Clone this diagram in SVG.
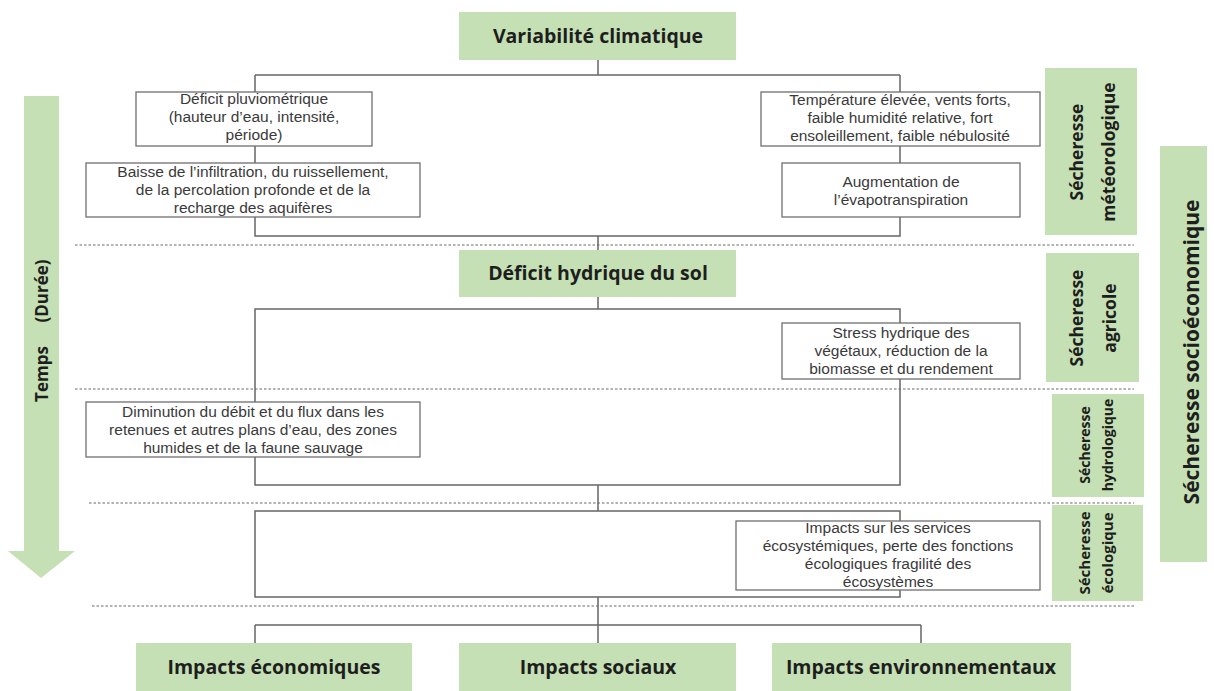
<svg xmlns="http://www.w3.org/2000/svg" width="1214" height="691" viewBox="0 0 1214 691">
<style>
.g{fill:#c5e0b4;stroke:none}
.b{fill:#fff;stroke:#6f6f6f;stroke-width:1.3}
.c{fill:none;stroke:#666;stroke-width:1.5}
.d{fill:none;stroke:#9a9a9a;stroke-width:1.3;stroke-dasharray:2.5 2}
.t{font-family:"Liberation Sans",Arial,sans-serif;font-size:15.5px;fill:#3a3a3a;text-anchor:middle}
.h{font-family:"Open Sans","Liberation Sans",sans-serif;font-size:19.5px;font-weight:bold;fill:#1e1e1e;text-anchor:middle}
.v{font-family:"Open Sans","Liberation Sans",sans-serif;font-size:17.5px;font-weight:bold;fill:#1e1e1e;text-anchor:middle}
</style>
<rect width="1214" height="691" fill="#fff"/>
<g id="dividers">
<line class="d" x1="75" y1="245" x2="1134" y2="245"/>
<line class="d" x1="75" y1="389" x2="1134" y2="389"/>
<line class="d" x1="89" y1="503" x2="1134" y2="503"/>
<line class="d" x1="92" y1="606" x2="1136" y2="606"/>
</g>
<g id="connectors">
<path class="c" d="M598 60V75M255 75H900M255 75V92M900 75V92"/>
<path class="c" d="M255 146V163M900 146V163"/>
<path class="c" d="M255 217V236H900V217M598 236V250"/>
<path class="c" d="M598 297V309M255 309H900V485H255Z"/>
<path class="c" d="M598 485V511M255 511H900V597H255Z"/>
<path class="c" d="M598 597V643M255 625H921M255 625V643M921 625V643"/>
</g>
<g id="time-arrow">
<path class="g" d="M24 96H59V551H75L41 578L8 551H24Z"/>
<text class="v" transform="translate(48,0) rotate(-90)" style="font-size:17px"><tspan x="-374" y="0">Temps</tspan><tspan x="-291" y="0">(Durée)</tspan></text>
</g>
<g id="variabilite">
<rect class="g" x="459" y="12" width="277" height="48"/>
<text class="h" x="598" y="43">Variabilité climatique</text>
</g>
<g id="deficit-pluvio">
<rect class="b" x="136" y="92" width="236" height="54"/>
<text class="t"><tspan x="254" y="104">Déficit pluviométrique</tspan><tspan x="254" y="122">(hauteur d’eau, intensité,</tspan><tspan x="254" y="140">période)</tspan></text>
</g>
<g id="temperature">
<rect class="b" x="761" y="92" width="279" height="54"/>
<text class="t"><tspan x="900" y="105">Température élevée, vents forts,</tspan><tspan x="900" y="123">faible humidité relative, fort</tspan><tspan x="900" y="141">ensoleillement, faible nébulosité</tspan></text>
</g>
<g id="baisse">
<rect class="b" x="86" y="163" width="334" height="54"/>
<text class="t"><tspan x="253" y="177">Baisse de l’infiltration, du ruissellement,</tspan><tspan x="253" y="195">de la percolation profonde et de la</tspan><tspan x="253" y="213">recharge des aquifères</tspan></text>
</g>
<g id="augmentation">
<rect class="b" x="782" y="163" width="238" height="54"/>
<text class="t"><tspan x="901" y="187">Augmentation de</tspan><tspan x="901" y="205">l’évapotranspiration</tspan></text>
</g>
<g id="meteo">
<rect class="g" x="1045" y="68" width="92" height="167"/>
<text class="v" transform="translate(1091,152) rotate(-90)"><tspan x="0" y="-8">Sécheresse</tspan><tspan x="0" y="24">météorologique</tspan></text>
</g>
<g id="socio">
<rect class="g" x="1160" y="146" width="47" height="416"/>
<text class="h" transform="translate(1199,352) rotate(-90)" style="font-size:21px">Sécheresse socioéconomique</text>
</g>
<g id="deficit-hydrique">
<rect class="g" x="459" y="250" width="277" height="47"/>
<text class="h" x="598" y="280">Déficit hydrique du sol</text>
</g>
<g id="agricole">
<rect class="g" x="1046" y="253" width="93" height="129"/>
<text class="v" transform="translate(1091,318) rotate(-90)"><tspan x="0" y="-8">Sécheresse</tspan><tspan x="0" y="25">agricole</tspan></text>
</g>
<g id="stress">
<rect class="b" x="782" y="323" width="238" height="56"/>
<text class="t"><tspan x="901" y="338">Stress hydrique des</tspan><tspan x="901" y="356">végétaux, réduction de la</tspan><tspan x="901" y="374">biomasse et du rendement</tspan></text>
</g>
<g id="diminution">
<rect class="b" x="86" y="402" width="334" height="55"/>
<text class="t"><tspan x="253" y="417">Diminution du débit et du flux dans les</tspan><tspan x="253" y="435">retenues et autres plans d’eau, des zones</tspan><tspan x="253" y="453">humides et de la faune sauvage</tspan></text>
</g>
<g id="hydro">
<rect class="g" x="1052" y="394" width="92" height="103"/>
<text class="v" transform="translate(1098,445) rotate(-90)" style="font-size:14px"><tspan x="0" y="-8">Sécheresse</tspan><tspan x="0" y="15">hydrologique</tspan></text>
</g>
<g id="impacts-services">
<rect class="b" x="736" y="521" width="304" height="69"/>
<text class="t"><tspan x="888" y="533">Impacts sur les services</tspan><tspan x="888" y="551">écosystémiques, perte des fonctions</tspan><tspan x="888" y="569">écologiques fragilité des</tspan><tspan x="888" y="587">écosystèmes</tspan></text>
</g>
<g id="ecologique">
<rect class="g" x="1052" y="505" width="91" height="96"/>
<text class="v" transform="translate(1098,553) rotate(-90)" style="font-size:15px"><tspan x="0" y="-8">Sécheresse</tspan><tspan x="0" y="15">écologique</tspan></text>
</g>
<g id="impacts-eco">
<rect class="g" x="136" y="643" width="276" height="48"/>
<text class="h" x="274" y="674">Impacts économiques</text>
</g>
<g id="impacts-sociaux">
<rect class="g" x="459" y="643" width="277" height="48"/>
<text class="h" x="598" y="674">Impacts sociaux</text>
</g>
<g id="impacts-env">
<rect class="g" x="772" y="643" width="299" height="48"/>
<text class="h" x="921" y="674">Impacts environnementaux</text>
</g>
</svg>
